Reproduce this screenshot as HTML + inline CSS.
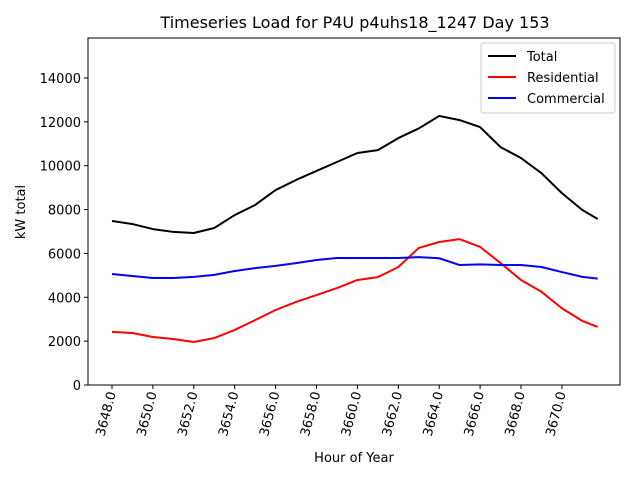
<!DOCTYPE html>
<html><head><meta charset="utf-8"><style>
body{margin:0;background:#fff;}
svg{display:block;font-family:"DejaVu Sans","Liberation Sans",sans-serif;}
</style></head><body>
<svg id="chart" width="640" height="480" xmlns="http://www.w3.org/2000/svg">
<rect width="640" height="480" fill="#fff"/>
<text x="355" y="28" text-anchor="middle" font-size="16">Timeseries Load for P4U p4uhs18_1247  Day 153</text>
<g id="plot"></g>
<rect x="88" y="38" width="532" height="347" fill="none" stroke="#000" stroke-width="1"/>
<text x="0" y="0" transform="translate(25,212) rotate(-90)" text-anchor="middle" font-size="13">kW total</text>
<text x="354" y="462" text-anchor="middle" font-size="13">Hour of Year</text>
<g>
<rect x="481" y="43" width="134" height="70" rx="3" fill="#fff" stroke="#ccc"/>
<line x1="488" y1="56" x2="516" y2="56" stroke="#000" stroke-width="2"/>
<text x="527" y="61" font-size="13">Total</text>
<line x1="488" y1="77" x2="516" y2="77" stroke="#f00" stroke-width="2"/>
<text x="527" y="82" font-size="13">Residential</text>
<line x1="488" y1="98" x2="516" y2="98" stroke="#00f" stroke-width="2"/>
<text x="527" y="103" font-size="13">Commercial</text>
</g>
</svg>
<script>
const hours=[3648,3649,3650,3651,3652,3653,3654,3655,3656,3657,3658,3659,3660,3661,3662,3663,3664,3665,3666,3667,3668,3669,3670,3671,3671.75];
const total=[7480,7340,7110,6980,6930,7160,7750,8210,8890,9350,9760,10170,10580,10710,11260,11700,12270,12080,11760,10850,10350,9660,8750,7980,7570];
const residential=[2420,2370,2190,2100,1960,2140,2510,2960,3420,3790,4100,4420,4790,4920,5380,6250,6520,6650,6300,5560,4790,4250,3500,2920,2650];
const commercial=[5060,4970,4880,4880,4930,5020,5200,5330,5430,5560,5700,5790,5790,5790,5790,5830,5780,5470,5500,5470,5470,5380,5150,4930,4850];
const yTicks=[0,2000,4000,6000,8000,10000,12000,14000];
const xTicks=[3648,3650,3652,3654,3656,3658,3660,3662,3664,3666,3668,3670];
const NS="http://www.w3.org/2000/svg";
const plot=document.getElementById('plot');
function xs(h){return 112+(h-3648)*20.45;}
function ys(v){return 385-v*0.021929;}
function mk(t,a){const e=document.createElementNS(NS,t);for(const k in a)e.setAttribute(k,a[k]);plot.appendChild(e);return e;}
yTicks.forEach(v=>{
  const l=mk('line',{x1:84,x2:88,y1:ys(v),y2:ys(v),stroke:'#000'});
  
  
  const t=mk('text',{x:81,y:ys(v)+5,'text-anchor':'end','font-size':'13'});
  t.textContent=v;
  
  
});
xTicks.forEach(h=>{
  const x=xs(h);
  const l=mk('line',{x1:x,x2:x,y1:385,y2:389,stroke:'#000'});
  
  
  const t=mk('text',{x:0,y:0,'text-anchor':'end','font-size':'13',transform:`translate(${x+4},393) rotate(-75)`});
  t.textContent=h.toFixed(1);
  
  
});
function line(arr,color,name){
  const p=mk('polyline',{points:arr.map((v,i)=>xs(hours[i])+','+ys(v)).join(' '),fill:'none',stroke:color,'stroke-width':2,'stroke-linejoin':'round'});
  
  
}
line(total,'#000','total-line');
line(residential,'#f00','residential-line');
line(commercial,'#00f','commercial-line');
</script>
</body></html>
